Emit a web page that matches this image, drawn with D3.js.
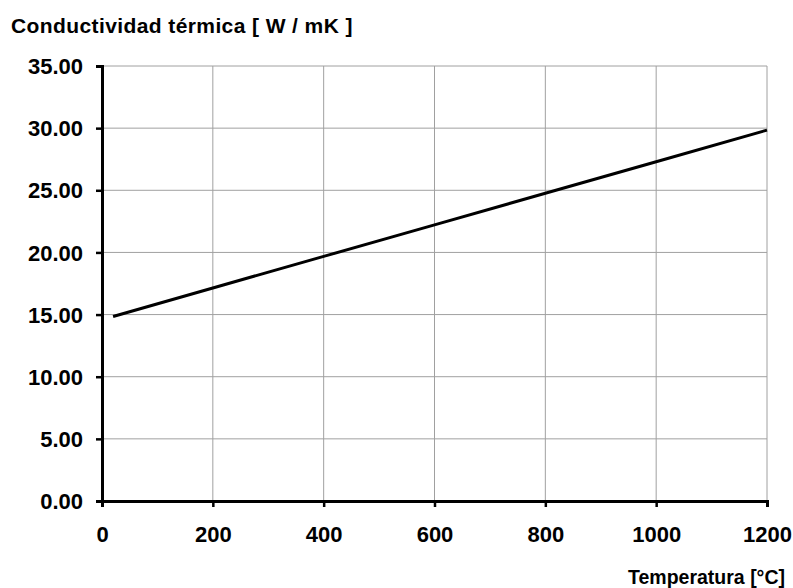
<!DOCTYPE html>
<html><head><meta charset="utf-8">
<script src="https://cdn.jsdelivr.net/npm/d3@7"></script>
<style>body{margin:0;background:#fff}svg{display:block}text{font-family:"Liberation Sans",Arial,sans-serif;font-weight:bold;fill:#000}</style>
</head><body>
<svg id="c" width="793" height="588"></svg>
<script>
const temps = [20, 200, 400, 600, 800, 1000, 1200];
const conductivity = [14.85, 17.14, 19.68, 22.22, 24.76, 27.30, 29.84];
const xTicks = [0, 200, 400, 600, 800, 1000, 1200];
const yTicks = [0, 5, 10, 15, 20, 25, 30, 35];

const svg = d3.select("#c");
const L = 102, R = 767, T = 66, B = 501;
const x = d3.scaleLinear().domain([0, 1200]).range([L, R]);
const y = d3.scaleLinear().domain([0, 35]).range([B, T]);

// grid
svg.append("g").selectAll("line").data(xTicks.filter(d => d > 0)).join("line")
  .attr("x1", d => x(d)).attr("x2", d => x(d)).attr("y1", T).attr("y2", B)
  .attr("stroke", "#a0a0a0").attr("stroke-width", 1);
svg.append("g").selectAll("line").data(yTicks.filter(d => d > 0)).join("line")
  .attr("x1", L).attr("x2", R).attr("y1", d => y(d)).attr("y2", d => y(d))
  .attr("stroke", "#a0a0a0").attr("stroke-width", 1);

// axes
const xa = svg.append("g").attr("transform", `translate(0,${B})`)
  .call(d3.axisBottom(x).tickValues(xTicks).tickSize(6).tickPadding(19).tickFormat(d3.format("d")));
const ya = svg.append("g").attr("transform", `translate(${L},0)`)
  .call(d3.axisLeft(y).tickValues(yTicks).tickSize(6).tickPadding(13).tickFormat(d3.format(".2f")));
[xa, ya].forEach(a => {
  a.attr("font-size", null).attr("font-family", null);
  a.select(".domain").attr("stroke", "#000").attr("stroke-width", 3);
  a.selectAll(".tick line").attr("stroke", "#000").attr("stroke-width", 2.5);
  a.selectAll(".tick text").style("font-size", "22px").style("font-weight", "bold")
    .style("font-family", '"Liberation Sans",Arial,sans-serif').attr("fill", "#000");
});
ya.selectAll(".tick text").attr("dy", "0.35em");

// line
svg.append("path")
  .datum(temps.map((t, i) => [t, conductivity[i]]))
  .attr("fill", "none").attr("stroke", "#000").attr("stroke-width", 3)
  .attr("d", d3.line().x(d => x(d[0])).y(d => y(d[1])));

// titles
svg.append("text").attr("x", 11).attr("y", 33).style("font-size", "21px").style("letter-spacing", "0.4px")
  .text("Conductividad térmica [ W / mK ]");
svg.append("text").attr("x", 785).attr("y", 584).attr("text-anchor", "end")
  .style("font-size", "19.5px").text("Temperatura [°C]");
</script>
</body></html>
